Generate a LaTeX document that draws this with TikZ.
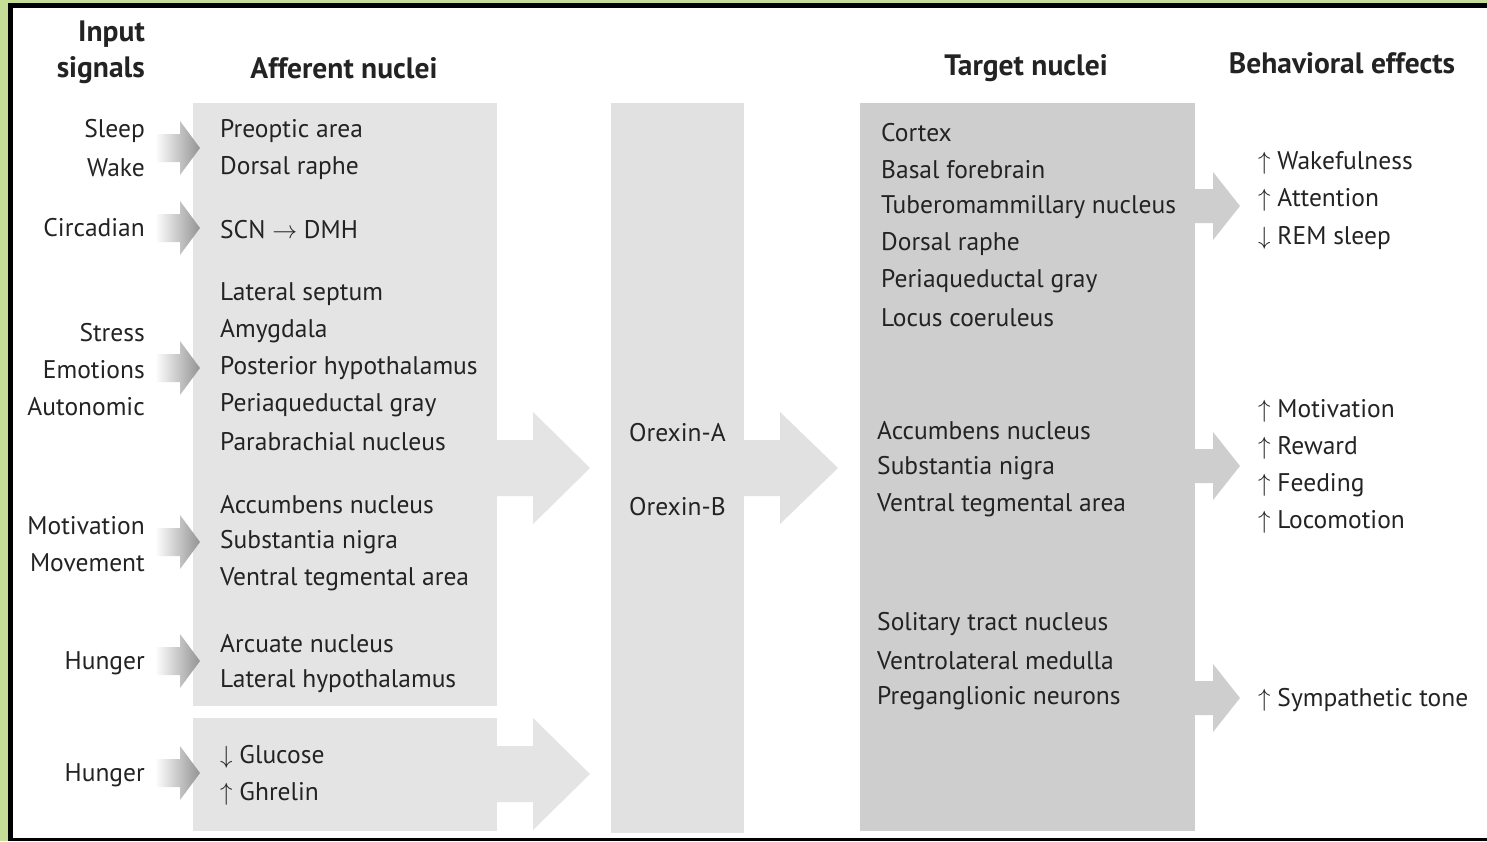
\documentclass[tikz,border=0pt]{standalone}
\usepackage{fontspec}
\setmainfont{PT Sans}
\definecolor{leaf}{RGB}{198,221,152}
\definecolor{ink}{RGB}{35,35,35}
\definecolor{affgray}{RGB}{228,228,228}
\definecolor{orxgray}{RGB}{225,225,225}
\definecolor{tgtgray}{RGB}{206,206,206}
\tikzset{
  lbl/.style={inner sep=0pt, yshift=-2pt, text=ink, font=\fontsize{25.5}{30}\selectfont},
  hdr/.style={inner sep=0pt, text=ink, font=\fontsize{29.5}{34}\selectfont\bfseries},
}
% small shaded arrow in front of the afferent box, tip at (200,#1)
\newcommand{\inarrow}[1]{%
  \shade[left color=white, right color=gray!85] (155,#1-14) -- (180,#1-14) -- (180,#1-27)
    -- (200,#1) -- (180,#1+27) -- (180,#1+14) -- (155,#1+14) -- cycle;}
% block arrow: start, shoulder, tip, centre, half shaft, half head, colour
\newcommand{\blockarrow}[7]{%
  \fill[#7] (#1,#4-#5) -- (#2,#4-#5) -- (#2,#4-#6) -- (#3,#4) -- (#2,#4+#6)
    -- (#2,#4+#5) -- (#1,#4+#5) -- cycle;}
\begin{document}
\begin{tikzpicture}[x=1pt,y=-1pt]
  \useasboundingbox (0,0) rectangle (1487,841);
  \fill[leaf] (0,0) rectangle (1487,841);
  \fill[black] (8,3) rectangle (1495,841);
  \fill[white] (13,8) rectangle (1495,838);

  % column headers
  \node[hdr, anchor=east] (in1) at (145,34) {Input};
  \node[hdr, anchor=east] (in2) at (145,70) {signals};
  \node[hdr] (hAff) at (344,68) {Afferent nuclei};
  \node[hdr] (hTgt) at (1026,68) {Target nuclei};
  \node[hdr] (hBeh) at (1342,63) {Behavioral effects};

  % boxes
  \fill[affgray] (193,103) rectangle (497,706);
  \fill[affgray] (193,718) rectangle (497,831);
  \fill[orxgray] (611,103) rectangle (744,833);
  \fill[tgtgray] (860,103) rectangle (1195,831);

  % big arrows between the columns
  \blockarrow{496}{533}{590}{468}{28}{56}{affgray}
  \blockarrow{496}{533}{590}{774}{28}{56}{affgray}
  \blockarrow{743}{780}{838}{468}{28}{56}{orxgray}
  \blockarrow{1194}{1213}{1240}{206}{17}{34}{tgtgray}
  \blockarrow{1194}{1213}{1240}{466}{17}{34}{tgtgray}
  \blockarrow{1194}{1213}{1240}{698}{17}{34}{tgtgray}

  % input signals
  \foreach \y/\t [count=\i] in {129/Sleep, 166/Wake, 226/Circadian, 331/Stress,
      368/Emotions, 405/Autonomic, 524/Motivation, 561/Movement, 661/Hunger, 773/Hunger}
    \node[lbl, anchor=east] (sig\i) at (145,\y) {\t};
  \foreach \y in {148,228,368,542,661,773}
    {\inarrow{\y}}

  % afferent nuclei
  \foreach \y/\t [count=\i] in {129/Preoptic area, 166/Dorsal raphe,
      228/SCN $\rightarrow$ DMH, 292/Lateral septum, 329/Amygdala,
      366/Posterior hypothalamus, 403/Periaqueductal gray, 440/Parabrachial nucleus,
      503/Accumbens nucleus, 540/Substantia nigra, 577/Ventral tegmental area,
      642/Arcuate nucleus, 679/Lateral hypothalamus,
      755/$\downarrow$ Glucose, 792/$\uparrow$ Ghrelin}
    \node[lbl, anchor=west] (aff\i) at (220,\y) {\t};

  % orexins
  \node[lbl, anchor=west] (oxA) at (629,431) {Orexin-A};
  \node[lbl, anchor=west] (oxB) at (629,505) {Orexin-B};

  % target nuclei
  \foreach \y/\t [count=\i] in {131/Cortex, 168/Basal forebrain,
      205/Tuberomammillary nucleus, 242/Dorsal raphe, 279/Periaqueductal gray,
      316/Locus coeruleus}
    \node[lbl, anchor=west] (tgt\i) at (881,\y) {\t};
  \foreach \y/\t [count=\i] in {429/Accumbens nucleus, 466/Substantia nigra,
      503/Ventral tegmental area, 622/Solitary tract nucleus,
      659/Ventrolateral medulla, 696/Preganglionic neurons}
    \node[lbl, anchor=west] (tgtb\i) at (877,\y) {\t};

  % behavioral effects
  \foreach \y/\t [count=\i] in {161/$\uparrow$ Wakefulness, 198/$\uparrow$ Attention,
      236/$\downarrow$ REM sleep, 409/$\uparrow$ Motivation, 446/$\uparrow$ Reward,
      483/$\uparrow$ Feeding, 520/$\uparrow$ Locomotion, 698/$\uparrow$ Sympathetic tone}
    \node[lbl, anchor=west] (eff\i) at (1258,\y) {\t};
\end{tikzpicture}
\end{document}
